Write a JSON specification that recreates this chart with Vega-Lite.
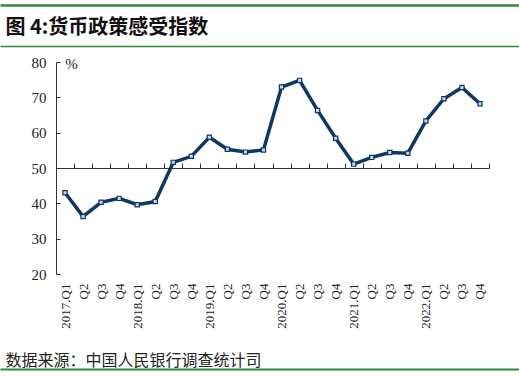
{
  "$schema": "https://vega.github.io/schema/vega-lite/v6.json",
  "autosize": "none",
  "width": 433,
  "height": 212,
  "padding": {"left": 56, "top": 62, "right": 30, "bottom": 103},
  "background": "white",
  "config": {"view": {"stroke": null}},
  "data": {"values": [
    {"period": "2017.Q1", "value": 43.0},
    {"period": "2017.Q2", "value": 36.3},
    {"period": "2017.Q3", "value": 40.3},
    {"period": "2017.Q4", "value": 41.4},
    {"period": "2018.Q1", "value": 39.6},
    {"period": "2018.Q2", "value": 40.5},
    {"period": "2018.Q3", "value": 51.6},
    {"period": "2018.Q4", "value": 53.3},
    {"period": "2019.Q1", "value": 58.7},
    {"period": "2019.Q2", "value": 55.3},
    {"period": "2019.Q3", "value": 54.5},
    {"period": "2019.Q4", "value": 55.1},
    {"period": "2020.Q1", "value": 72.9},
    {"period": "2020.Q2", "value": 74.8},
    {"period": "2020.Q3", "value": 66.3},
    {"period": "2020.Q4", "value": 58.4},
    {"period": "2021.Q1", "value": 51.1},
    {"period": "2021.Q2", "value": 53.0},
    {"period": "2021.Q3", "value": 54.4},
    {"period": "2021.Q4", "value": 54.2},
    {"period": "2022.Q1", "value": 63.3},
    {"period": "2022.Q2", "value": 69.6},
    {"period": "2022.Q3", "value": 72.8},
    {"period": "2022.Q4", "value": 68.2}
  ]},
  "resolve": {"scale": {"x": "independent"}, "axis": {"x": "independent"}},
  "layer": [
    {
      "mark": {"type": "point", "opacity": 0},
      "encoding": {
        "x": {"field": "period", "type": "nominal", "sort": null,
          "scale": {"range": [-56, 463]},
          "axis": {"orient": "top", "offset": 57, "labels": false, "ticks": false, "title": null,
            "domainColor": "#2e8b36", "domainWidth": 2.5}}
      }
    },
    {
      "mark": {"type": "point", "opacity": 0},
      "encoding": {
        "x": {"field": "period", "type": "nominal", "sort": null,
          "scale": {"type": "band", "paddingInner": 0, "paddingOuter": 0},
          "axis": {"orient": "top", "offset": -106, "labels": false, "title": null,
            "domainColor": "#333333", "domainWidth": 1, "tickColor": "#333333", "tickSize": 5, "tickWidth": 1, "tickBand": "extent"}}
      }
    },
    {
      "mark": {"type": "point", "opacity": 0},
      "encoding": {
        "x": {"field": "period", "type": "nominal", "sort": null,
          "scale": {"range": [-56, 463]},
          "axis": {"orient": "top", "offset": 16, "labels": false, "ticks": false,
            "domainColor": "#2e8b36", "domainWidth": 1.5,
            "title": "图 4:货币政策感受指数", "titleFont": "Noto Sans CJK SC", "titleFontSize": 20, "titleFontWeight": "bold",
            "titleColor": "#111111", "titleX": -51, "titleY": -13, "titleAlign": "left", "titleAnchor": "start", "titleBaseline": "alphabetic", "titleAngle": 0}}
      }
    },
    {
      "mark": {"type": "point", "opacity": 0},
      "encoding": {
        "x": {"field": "period", "type": "nominal", "sort": null,
          "scale": {"range": [-56, 463]},
          "axis": {"orient": "bottom", "offset": 95, "labels": false, "ticks": false, "title": null,
            "domainColor": "#2e8b36", "domainWidth": 2}}
      }
    },
    {
      "mark": {"type": "line", "color": "#0c3862", "strokeWidth": 3.5,
        "point": {"shape": "square", "size": 18, "filled": true, "fill": "#c8d6e5", "stroke": "#0c3862", "strokeWidth": 1.2}},
      "encoding": {
        "x": {"field": "period", "type": "nominal", "sort": null,
          "axis": {"orient": "bottom", "domain": false, "ticks": false, "labelAngle": -90, "labelPadding": 9,
            "labelFont": "Liberation Serif", "labelFontSize": 13, "labelColor": "#222222",
            "labelExpr": "slice(datum.value, 5) == 'Q1' ? datum.value : slice(datum.value, 5)",
            "title": "数据来源：中国人民银行调查统计司", "titleFont": "Noto Sans CJK SC", "titleFontSize": 16, "titleFontWeight": "normal",
            "titleColor": "#222222", "titleX": -51, "titleY": 91, "titleAlign": "left", "titleAnchor": "start", "titleBaseline": "alphabetic"}},
        "y": {"field": "value", "type": "quantitative", "scale": {"domain": [20, 80], "nice": false, "zero": false},
          "axis": {"values": [20, 30, 40, 50, 60, 70, 80], "grid": false, "tickSize": -4, "labelPadding": 14,
            "domainColor": "#333333", "tickColor": "#333333",
            "labelFont": "Liberation Serif", "labelFontSize": 15, "labelColor": "#222222",
            "title": "%", "titleAngle": 0, "titleX": 15, "titleY": 1, "titleAlign": "center", "titleBaseline": "middle",
            "titleFont": "Liberation Serif", "titleFontSize": 15, "titleFontWeight": "normal", "titleColor": "#222222"}}
      }
    }
  ]
}
